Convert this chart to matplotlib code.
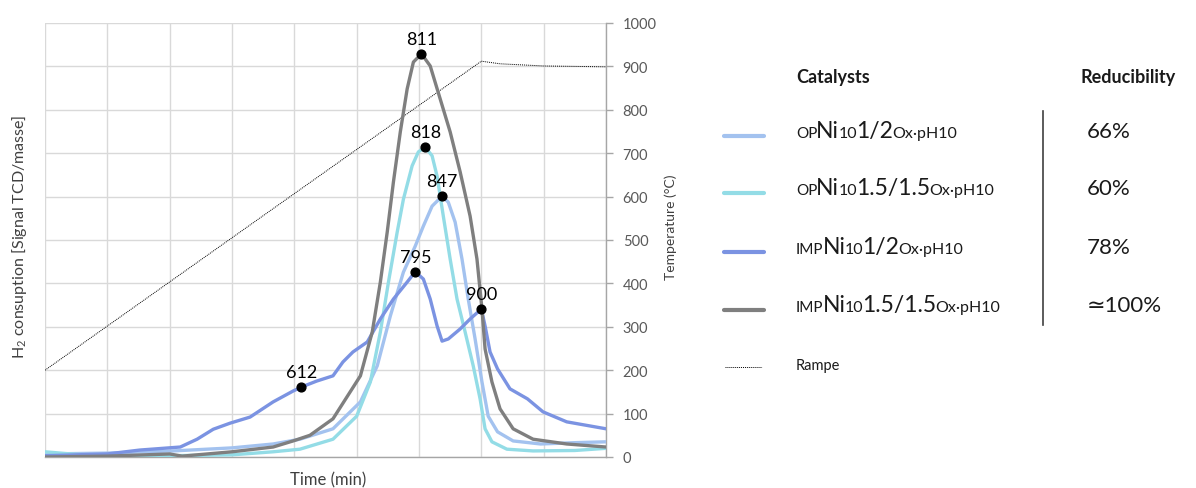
import matplotlib
matplotlib.use("Agg")
import matplotlib.pyplot as plt
from matplotlib.lines import Line2D
from matplotlib.textpath import TextPath
from matplotlib.font_manager import FontProperties

plt.rcParams['font.family'] = ['Lato', 'DejaVu Sans']
plt.rcParams['mathtext.fontset'] = 'custom'
plt.rcParams['mathtext.rm'] = 'Lato'
plt.rcParams['mathtext.it'] = 'Lato:italic'
plt.rcParams['mathtext.bf'] = 'Lato:bold'

# ---------------- data (time in grid units, values on temperature scale) ----
op12_t = [0, 1.0, 2.06, 3.0, 3.66, 4.09, 4.62, 5.06, 5.33, 5.54, 5.75, 5.94, 6.07, 6.21,
          6.37, 6.47, 6.58, 6.69, 6.79, 6.90, 7.01, 7.11, 7.26, 7.51, 7.95, 8.5, 9.0]
op12_v = [7, 9, 14, 21, 30, 41, 65, 127, 210, 325, 426, 486, 532, 578,
          601, 587, 541, 456, 364, 272, 173, 94, 58, 37, 30, 33, 35]

op1515_t = [0, 0.5, 1.0, 2.0, 3.0, 3.66, 4.09, 4.62, 5.0, 5.22, 5.38, 5.51, 5.65, 5.75,
            5.89, 5.99, 6.10, 6.21, 6.29, 6.39, 6.50, 6.61, 6.74, 6.87, 6.98, 7.06, 7.17,
            7.41, 7.83, 8.5, 9.0]
op1515_v = [12, 6, 3, 3, 5, 12, 18, 41, 94, 173, 288, 403, 518, 594,
            671, 703, 714, 694, 647, 555, 456, 364, 288, 210, 134, 65, 35,
            18, 14, 15, 20]

imp12_t = [0, 1.0, 1.52, 2.17, 2.44, 2.70, 2.97, 3.29, 3.66, 3.98, 4.11, 4.36, 4.62, 4.78,
           4.94, 5.17, 5.38, 5.59, 5.81, 5.94, 6.07, 6.18, 6.29, 6.37, 6.47, 6.66, 6.82,
           7.0, 7.06, 7.14, 7.26, 7.46, 7.74, 7.99, 8.37, 9.0]
imp12_v = [3, 7, 16, 23, 41, 64, 78, 92, 127, 152, 161, 175, 187, 219,
           242, 265, 318, 364, 403, 427, 410, 364, 302, 267, 272, 295, 318,
           341, 302, 242, 203, 157, 134, 104, 81, 65]

imp1515_t = [0, 1.0, 2.0, 2.2, 3.0, 3.66, 3.98, 4.25, 4.62, 5.06, 5.25, 5.38, 5.49, 5.59,
             5.70, 5.81, 5.91, 6.04, 6.18, 6.34, 6.50, 6.66, 6.82, 6.93, 7.01, 7.06, 7.17,
             7.30, 7.51, 7.83, 8.37, 9.0]
imp1515_v = [0, 2, 7, 2, 12, 23, 37, 50, 88, 187, 288, 403, 518, 634,
             749, 848, 910, 929, 901, 825, 749, 657, 555, 456, 341, 249, 173,
             111, 65, 41, 30, 23]

ramp_t = [0, 7.0, 7.3, 8.0, 9.0]
ramp_v = [200, 912, 906, 901, 899]

peak_t = [4.11, 5.94, 6.04, 6.10, 6.37, 7.0]
peak_v = [161, 427, 929, 714, 601, 341]
peak_labels = ["612", "795", "811", "818", "847", "900"]

temp_ticks = [0, 100, 200, 300, 400, 500, 600, 700, 800, 900, 1000]
time_grid = [0, 1, 2, 3, 4, 5, 6, 7, 8, 9]

series_names = [
    [("OP", 11), ("Ni", 16.5), ("10", 11.5), ("1/2", 16.5), ("Ox·pH10", 11.5)],
    [("OP", 11), ("Ni", 16.5), ("10", 11.5), ("1.5/1.5", 16.5), ("Ox·pH10", 11.5)],
    [("IMP", 11), ("Ni", 16.5), ("10", 11.5), ("1/2", 16.5), ("Ox·pH10", 11.5)],
    [("IMP", 11), ("Ni", 16.5), ("10", 11.5), ("1.5/1.5", 16.5), ("Ox·pH10", 11.5)],
]
reducibility = ["66%", "60%", "78%", "≃100%"]
colors = ["#a3c2ef", "#93dce6", "#7b93e2", "#7f7f7f"]

# ---------------- figure ----------------
W, H = 1196, 489
fig = plt.figure(figsize=(W / 100, H / 100), dpi=100)
ax = fig.add_axes([45 / W, 1 - 458 / H, (606 - 45) / W, (458 - 24) / H])

ax.set_xlim(0, 9)
ax.set_ylim(0, 1000)
ax.set_xticks(time_grid)
ax.set_yticks(temp_ticks)
ax.grid(True, color="#d9d9d9", linewidth=1.0)
ax.set_axisbelow(True)
ax.tick_params(axis='x', length=0, labelbottom=False)
ax.yaxis.tick_right()
ax.tick_params(axis='y', which='both', left=False, right=True, labelleft=False,
               labelright=True, length=5, width=1, color="#a6a6a6", pad=7,
               labelsize=10.5, labelcolor="#595959")
for s in ["top", "left"]:
    ax.spines[s].set_visible(False)
for s in ["bottom", "right"]:
    ax.spines[s].set_color("#a6a6a6")
    ax.spines[s].set_linewidth(1.0)

ax.plot(ramp_t, ramp_v, color="black", linestyle=(0, (1, 1)), linewidth=0.7, zorder=2)
series = [(op12_t, op12_v), (op1515_t, op1515_v), (imp12_t, imp12_v), (imp1515_t, imp1515_v)]
for (t, v), c in zip(series, colors):
    ax.plot(t, v, color=c, linewidth=2.4, solid_capstyle='round', solid_joinstyle='round',
            zorder=3)

ax.scatter(peak_t, peak_v, s=40, color="black", zorder=5)
for t, v, lab in zip(peak_t, peak_v, peak_labels):
    ax.annotate(lab, (t, v), xytext=(0, 5), textcoords="offset points",
                ha="center", va="bottom", fontsize=13, color="black", zorder=6)

fig.text(671 / W, 1 - 227 / H, "Temperature (°C)", fontsize=10, color="#404040",
         rotation=90, ha="center", va="center")
fig.text(328 / W, 1 - 480 / H, "Time (min)", fontsize=12, color="#404040",
         ha="center", va="center")
fig.text(20 / W, 1 - 237 / H, r"H$_2$ consuption [Signal TCD/masse]", fontsize=11.5,
         color="#404040", rotation=90, ha="center", va="center")

# ---------------- custom legend ----------------
def fx(px):
    return px / W


def fy(py):
    return 1 - py / H


prop = FontProperties(family="Lato")
PT2PX = 100 / 72


def rich(x_px, y_px, pieces, color="#1a1a1a", gap=1.5):
    ink_right = None
    for s, size in pieces:
        ext = TextPath((0, 0), s, size=size, prop=prop).get_extents()
        if ink_right is None:
            x = x_px
        else:
            x = ink_right + gap - ext.x0 * PT2PX
        fig.text(fx(x), fy(y_px), s, fontsize=size, va="baseline", ha="left", color=color)
        ink_right = x + ext.x1 * PT2PX


fig.text(fx(796), fy(83), "Catalysts", fontsize=13, fontweight="bold", color="#1a1a1a",
         va="baseline", ha="left")
fig.text(fx(1081), fy(83), "Reducibility", fontsize=13, fontweight="bold",
         color="#1a1a1a", va="baseline", ha="left")

line_y = [137, 194, 253, 311]
for yy, c, name, red in zip(line_y, colors, series_names, reducibility):
    fig.add_artist(Line2D([fx(724), fx(764)], [fy(yy), fy(yy)], color=c, linewidth=3.0,
                          solid_capstyle='round'))
    rich(796, yy + 1, name)
    fig.text(fx(1087), fy(yy + 1), red, fontsize=16, color="#1a1a1a", va="baseline",
             ha="left")

fig.add_artist(Line2D([fx(725), fx(762)], [fy(368), fy(368)], color="black",
                      linestyle=(0, (1, 1)), linewidth=0.7))
fig.text(fx(796), fy(370), "Rampe", fontsize=10.5, color="#1a1a1a", va="baseline",
         ha="left")

fig.add_artist(Line2D([fx(1043), fx(1043)], [fy(112), fy(326)], color="#404040",
                      linewidth=1.2))

fig.savefig("out.png", dpi=100)
